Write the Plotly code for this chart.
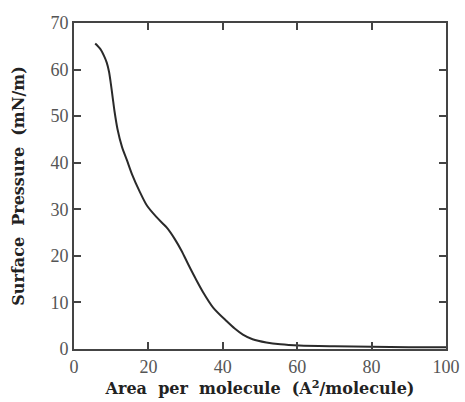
import plotly.graph_objects as go

area = [5.7, 7.1, 8.1, 8.8, 9.4, 9.9, 10.4, 10.9, 11.7, 12.9, 14.2, 15.6, 17.6, 19.6, 22.2, 24.9, 27.1, 28.9,
        30.7, 32.5, 34.7, 37.4, 41.0, 43.2, 45.4, 48.0, 51.7, 55.5, 60.6, 70, 80, 90, 100]
pressure = [65.6, 64.4, 62.9, 61.5, 59.6, 57.0, 54.0, 51.0, 47.2, 43.4, 40.6, 37.5, 33.9, 30.8, 28.3, 26.1, 23.6, 21.1,
            18.2, 15.4, 12.2, 8.9, 6.0, 4.4, 3.1, 2.1, 1.4, 1.0, 0.75, 0.6, 0.5, 0.4, 0.35]

x_ticks = [0, 20, 40, 60, 80, 100]
y_ticks = [0, 10, 20, 30, 40, 50, 60, 70]

fig = go.Figure()
fig.add_trace(go.Scatter(x=area, y=pressure, mode="lines",
                         line=dict(color="#2a2a2a", width=2, shape="spline", smoothing=0.8),
                         showlegend=False))

tick_font = dict(family="Liberation Serif, DejaVu Serif, serif", size=18, color="#555")
title_font = dict(family="DejaVu Serif, Liberation Serif, serif", size=16, color="#222")

axis_common = dict(showline=True, linecolor="#444", linewidth=2, mirror="ticks",
                   ticks="inside", ticklen=7, tickwidth=2, tickcolor="#444",
                   showgrid=False, zeroline=False, automargin=False,
                   tickfont=tick_font)

fig.update_xaxes(range=[0, 100], tickvals=x_ticks, ticktext=[str(v) for v in x_ticks],
                 title=dict(text="<b>Area  per  molecule  (A<sup>2</sup>/molecule)</b>", font=title_font,
                            standoff=4),
                 **axis_common)
fig.update_yaxes(range=[0, 70], tickvals=y_ticks, ticktext=[str(v) for v in y_ticks],
                 title=dict(text="<b>Surface  Pressure  (mN/m)</b>", font=title_font,
                            standoff=22),
                 **axis_common)

fig.update_layout(width=465, height=402, margin=dict(l=74, r=19, t=23, b=53, autoexpand=False),
                  plot_bgcolor="white", paper_bgcolor="white")

fig.write_html("out.html")
